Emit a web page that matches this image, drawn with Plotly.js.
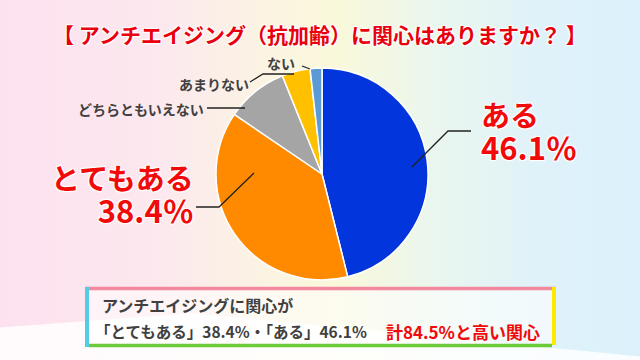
<!DOCTYPE html>
<html><head><meta charset="utf-8">
<script src="https://cdn.plot.ly/plotly-3.0.1.min.js"></script>
<style>
html,body{margin:0;padding:0;}
body{width:640px;height:360px;overflow:hidden;position:relative;
background:linear-gradient(90deg,#fde1ef 0%,#fce8ee 25%,#fbf4e2 42%,#faf8da 52%,#eaf6ee 68%,#dff2fa 85%,#dcf1fb 100%);
font-family:"Noto Sans CJK JP",sans-serif;}
#wave{position:absolute;left:0;top:0;width:640px;height:360px;background:rgba(255,255,255,0.85);
clip-path:polygon(0 91%, 30% 87%, 60% 92%, 100% 99%, 100% 100%, 0 100%);}
#chart{position:absolute;left:0;top:0;width:640px;height:360px;}
</style></head>
<body><div id="wave"></div><div id="chart"></div>
<script>
const categories = ["ある", "とてもある", "どちらともいえない", "あまりない", "ない"];
const values = [46.1, 38.4, 9.4, 4.3, 1.8];
const colors = ["#0335DD", "#FF8A00", "#A5A5A5", "#FFC000", "#5B9BD5"];
const titleText = "【 アンチエイジング（抗加齢）に関心はありますか？ 】";
const noteLine1 = "アンチエイジングに関心が";
const total = values[0] + values[1];

const W = 640, H = 360;
const px = x => x / W, py = y => 1 - y / H;
const FONT = "Noto Sans CJK JP";
const red = "#F00A0A", dark = "#404040";
const halo = "white 1px 1px 1px, white -1px -1px 1px, white 1px -1px 1px, white -1px 1px 1px";

const cx = 322, cy = 174, r = 106;
const trace = {
  type: "pie", labels: categories, values: values, sort: false, direction: "clockwise",
  rotation: 0, textinfo: "none", hoverinfo: "label+percent",
  marker: {colors: colors, line: {color: "#ffffff", width: 1.5}},
  domain: {x: [px(cx - r), px(cx + r)], y: [py(cy + r), py(cy - r)]},
  showlegend: false
};

function ann(text, x, y, xa, ya, size, color, extra) {
  return Object.assign({xref: "paper", yref: "paper", x: px(x), y: py(y), xanchor: xa, yanchor: ya,
    showarrow: false, text: text,
    font: {family: FONT, size: size, color: color, weight: 700}}, extra || {});
}
function line(pts, color, width) {
  let d = "M " + pts.map(p => px(p[0]) + " " + py(p[1])).join(" L ");
  return {type: "path", xref: "paper", yref: "paper", path: d, line: {color: color || "#222", width: width || 1.3}};
}
function bigLabel(cat, val, x, y, xa, align) {
  const t = '<span style="font-size:29px">' + cat + '</span><br><span style="font-size:31px">' + val.toFixed(1) + '％</span>';
  return ann(t, x, y, xa, "middle", 25, red, {align: align,
    font: {family: FONT, size: 25, color: red, weight: 700, shadow: halo}});
}

const annotations = [
  ann(titleText, 320, 34, "center", "middle", 21, "#E8000E", {font: {family: FONT, size: 21, color: "#E8000E", weight: 700, shadow: halo}}),
  bigLabel(categories[0], values[0], 479, 131, "left", "left"),
  bigLabel(categories[1], values[1], 196, 194, "right", "right"),
  ann(categories[2], 206, 109, "right", "middle", 14, dark),
  ann(categories[3], 251, 84, "right", "middle", 14, dark),
  ann(categories[4], 297, 63, "right", "middle", 14, dark),
  ann(noteLine1, 100, 305, "left", "middle", 16, dark),
  ann("「" + categories[1] + "」" + values[1].toFixed(1) + "%・「" + categories[0] + "」" + values[0].toFixed(1) + "%", 93, 331, "left", "middle", 15.5, dark),
  ann("計" + total.toFixed(1) + "%と高い関心", 384, 331, "left", "middle", 17, "#F00A0A")
];

const shapes = [
  {type: "rect", xref: "paper", yref: "paper", x0: px(87), x1: px(553), y0: py(345), y1: py(288), fillcolor: "rgba(255,255,255,0.55)", line: {width: 0}, layer: "below"},
  line([[85, 288.5], [556, 288.5]], "#F2899F", 3.5),
  line([[87, 287], [87, 347]], "#55CCE6", 4),
  line([[554, 287], [554, 345]], "#FFEA00", 4),
  line([[89, 345.5], [552, 345.5]], "#6CCB3A", 3.5),
  line([[412, 167], [448, 131], [471, 131]]),
  line([[254, 173], [219, 207], [196, 207]]),
  line([[207, 108], [245, 108]]),
  line([[250, 82], [263, 74], [294, 74]]),
  line([[302, 66], [310, 69]])
];

Plotly.newPlot("chart", [trace], {
  width: W, height: H, margin: {l: 0, r: 0, t: 0, b: 0},
  paper_bgcolor: "rgba(0,0,0,0)", plot_bgcolor: "rgba(0,0,0,0)",
  annotations: annotations, shapes: shapes, showlegend: false
}, {staticPlot: true});
</script></body></html>
